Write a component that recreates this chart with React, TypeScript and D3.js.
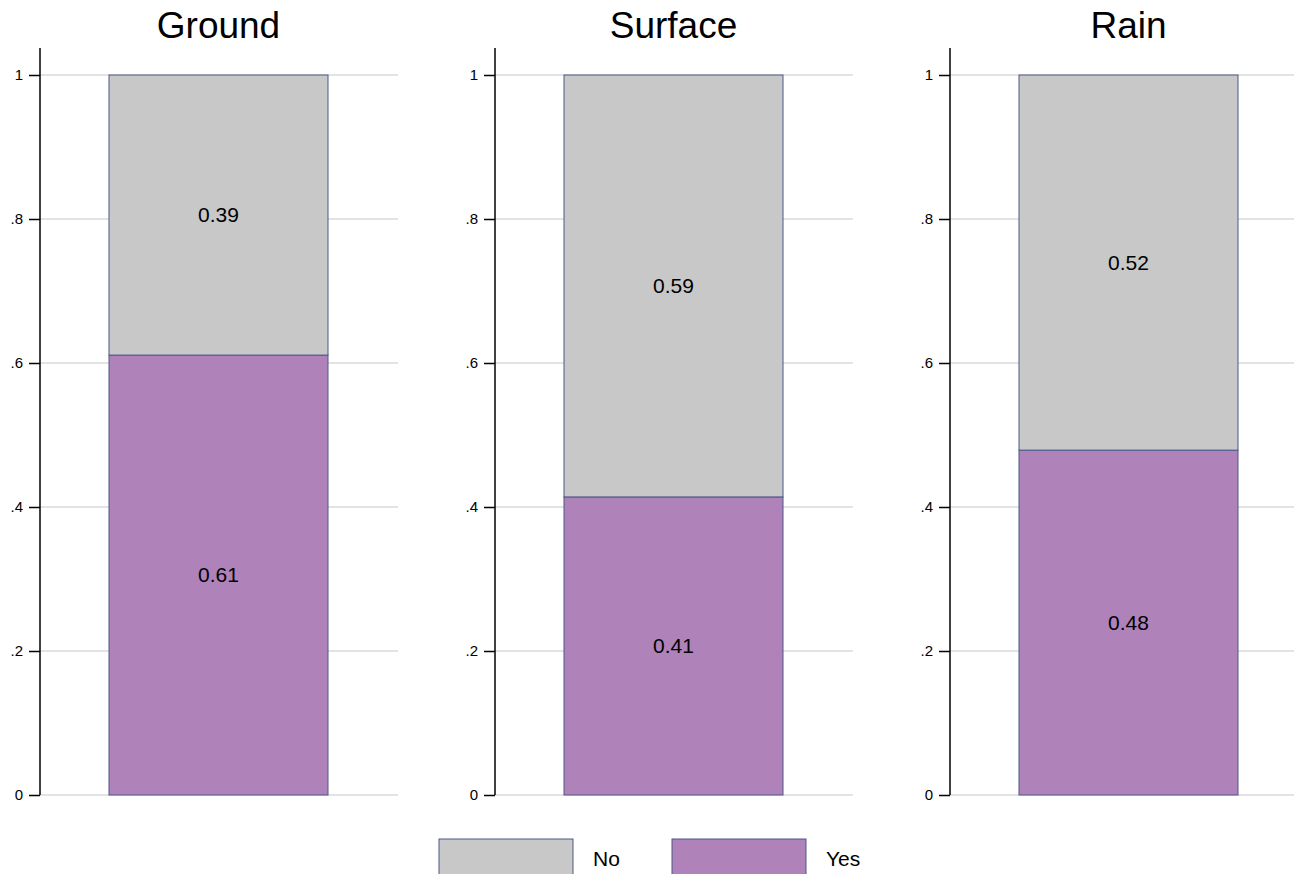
import { useRef, useEffect } from 'react';
import { select, scaleLinear, scaleBand, axisLeft } from 'd3';

const panels = ['Ground', 'Surface', 'Rain'];
const yesShare = [0.611, 0.414, 0.479];
const noShare = yesShare.map(v => 1 - v);
const seriesNames = ['No', 'Yes'];
const yTicks = [0, 0.2, 0.4, 0.6, 0.8, 1];

const colors: Record<string, string> = { No: '#c8c8c8', Yes: '#af82b9' };
const barStroke = '#4a5888';
const font = '"Liberation Sans", Arial, sans-serif';

export default function App() {
  const svgRef = useRef<SVGSVGElement>(null);

  useEffect(() => {
    if (!svgRef.current) return;
    const svg = select(svgRef.current);
    svg.selectAll('*').remove();

    const width = 1294;
    const height = 874;
    svg.attr('width', width).attr('height', height);

    const panelX = scaleBand<string>().domain(panels).range([40, 40 + 455 * panels.length]).paddingInner(0);
    const y = scaleLinear().domain([0, 1]).range([795, 75]);
    const gridW = 358;
    // bar placement inside one panel
    const barX = scaleLinear().domain([0, 1]).range([69, 288]);

    panels.forEach((name, i) => {
      const g = svg.append('g').attr('transform', `translate(${panelX(name)},0)`);

      // Grid
      g.append('g')
        .selectAll('line').data(yTicks).join('line')
        .attr('x1', 0).attr('x2', gridW)
        .attr('y1', d => y(d)).attr('y2', d => y(d))
        .attr('stroke', '#e3e3e3').attr('stroke-width', 2);

      // Title
      g.append('text')
        .attr('x', (barX(0) + barX(1)) / 2).attr('y', 38)
        .attr('text-anchor', 'middle')
        .style('font-family', font).style('font-size', '37px')
        .text(name);

      // Stacked segments
      const segs = [
        { key: 'Yes', y0: 0, y1: yesShare[i], v: yesShare[i] },
        { key: 'No', y0: yesShare[i], y1: 1, v: noShare[i] },
      ];
      g.selectAll('.seg').data(segs).join('rect')
        .attr('x', barX(0)).attr('width', barX(1) - barX(0))
        .attr('y', d => y(d.y1)).attr('height', d => y(d.y0) - y(d.y1))
        .attr('fill', d => colors[d.key])
        .attr('stroke', barStroke).attr('stroke-width', 1);

      g.selectAll('.lbl').data(segs).join('text')
        .attr('x', (barX(0) + barX(1)) / 2)
        .attr('y', d => (y(d.y0) + y(d.y1)) / 2)
        .attr('dy', '0.35em')
        .attr('text-anchor', 'middle')
        .style('font-family', font).style('font-size', '21px')
        .text(d => d.v.toFixed(2));

      // Y axis
      const ax = g.append('g')
        .call(axisLeft(y).tickValues(yTicks).tickSize(11).tickPadding(6)
          .tickFormat((d: any) => (d === 0 || d === 1 ? String(d) : String(d).replace(/^0/, ''))) as any);
      ax.select('.domain').remove();
      ax.selectAll('line').attr('stroke', '#000').attr('stroke-width', 1.5);
      ax.selectAll('text').style('font-family', font).style('font-size', '15px').attr('fill', '#000');
      g.append('line')
        .attr('x1', 0).attr('x2', 0).attr('y1', 48).attr('y2', y(0))
        .attr('stroke', '#000').attr('stroke-width', 1.5);
    });

    // Legend
    const legendX = [439, 672];
    const legend = svg.append('g');
    seriesNames.forEach((s, i) => {
      legend.append('rect')
        .attr('x', legendX[i]).attr('y', 839).attr('width', 134).attr('height', 40)
        .attr('fill', colors[s]).attr('stroke', barStroke).attr('stroke-width', 1);
      legend.append('text')
        .attr('x', legendX[i] + 154).attr('y', 859).attr('dy', '0.35em')
        .style('font-family', font).style('font-size', '21px')
        .text(s);
    });
  }, []);

  return (
    <svg ref={svgRef} style={{ position: 'absolute', left: 0, top: 0, display: 'block', background: '#fff' }} />
  );
}
